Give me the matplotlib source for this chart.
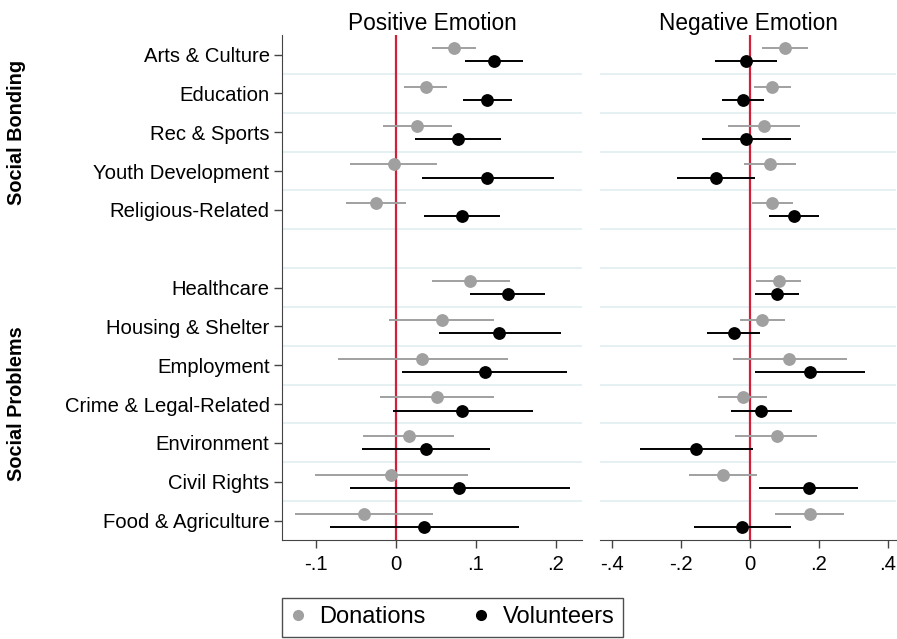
import matplotlib

matplotlib.use("Agg")
import matplotlib.pyplot as plt
from matplotlib.lines import Line2D

# category rows, top to bottom; None leaves an empty slot between the two groups
CATEGORIES = [
    "Arts & Culture", "Education", "Rec & Sports", "Youth Development", "Religious-Related",
    None,
    "Healthcare", "Housing & Shelter", "Employment", "Crime & Legal-Related",
    "Environment", "Civil Rights", "Food & Agriculture",
]

# positive emotion: point estimate, lower and upper CI
POS_DON = [0.072, 0.037, 0.026, -0.003, -0.025, 0.093, 0.057, 0.033, 0.051, 0.016, -0.006, -0.040]
POS_DON_LO = [0.045, 0.010, -0.016, -0.057, -0.063, 0.045, -0.009, -0.072, -0.020, -0.041, -0.101, -0.126]
POS_DON_HI = [0.100, 0.064, 0.070, 0.051, 0.013, 0.142, 0.122, 0.140, 0.122, 0.073, 0.090, 0.046]
POS_VOL = [0.123, 0.114, 0.078, 0.114, 0.083, 0.140, 0.129, 0.111, 0.083, 0.037, 0.079, 0.035]
POS_VOL_LO = [0.086, 0.084, 0.024, 0.033, 0.035, 0.093, 0.054, 0.008, -0.004, -0.043, -0.058, -0.083]
POS_VOL_HI = [0.159, 0.145, 0.131, 0.197, 0.130, 0.186, 0.206, 0.214, 0.171, 0.117, 0.218, 0.154]

# negative emotion
NEG_DON = [0.102, 0.064, 0.040, 0.057, 0.064, 0.083, 0.034, 0.114, -0.022, 0.077, -0.079, 0.173]
NEG_DON_LO = [0.034, 0.010, -0.064, -0.018, 0.007, 0.016, -0.030, -0.051, -0.093, -0.043, -0.178, 0.071]
NEG_DON_HI = [0.168, 0.120, 0.145, 0.133, 0.124, 0.149, 0.101, 0.281, 0.048, 0.194, 0.019, 0.274]
NEG_VOL = [-0.013, -0.021, -0.011, -0.100, 0.128, 0.078, -0.048, 0.174, 0.033, -0.156, 0.171, -0.023]
NEG_VOL_LO = [-0.102, -0.082, -0.140, -0.212, 0.054, 0.013, -0.124, 0.013, -0.054, -0.319, 0.027, -0.163]
NEG_VOL_HI = [0.077, 0.041, 0.119, 0.015, 0.200, 0.142, 0.028, 0.335, 0.121, 0.008, 0.313, 0.118]

POS_TICKS = [-0.1, 0.0, 0.1, 0.2]
POS_TICK_LABELS = ["-.1", "0", ".1", ".2"]
NEG_TICKS = [-0.4, -0.2, 0.0, 0.2, 0.4]
NEG_TICK_LABELS = ["-.4", "-.2", "0", ".2", ".4"]

GROUPS = [("Social Bonding", 0, 4), ("Social Problems", 6, 12)]

DON_COLOR = "#a0a0a0"
VOL_COLOR = "#000000"
ZERO_COLOR = "#d3203a"
GRID_COLOR = "#e3eff2"
AXIS_COLOR = "#444444"

plt.rcParams["font.family"] = ["Liberation Sans", "DejaVu Sans"]


def row_positions():
    return [i for i, name in enumerate(CATEGORIES) if name is not None]


def draw_panel(ax, series, title, ticks, tick_labels, xlim):
    rows = row_positions()
    for k in range(len(CATEGORIES) - 1):
        ax.axhline(k + 0.5, color=GRID_COLOR, lw=1.3, zorder=0)
    ax.axvline(0, color=ZERO_COLOR, lw=1.6, zorder=1)

    for (est, lo, hi), color, shift in zip(series, (DON_COLOR, VOL_COLOR), (-0.17, 0.17)):
        ys = [r + shift for r in rows]
        ax.hlines(ys, lo, hi, color=color, lw=1.4, zorder=2)
        ax.plot(est, ys, "o", color=color, ms=8.2, mec=color, zorder=3)

    ax.set_xlim(*xlim)
    ax.set_ylim(len(CATEGORIES) - 0.5, -0.5)
    ax.set_xticks(ticks)
    ax.set_xticklabels(tick_labels)
    ax.set_title(title, fontsize=16.3, pad=3)
    for side in ("top", "right"):
        ax.spines[side].set_visible(False)
    ax.spines["bottom"].set_color(AXIS_COLOR)
    ax.spines["left"].set_color(AXIS_COLOR)
    ax.tick_params(axis="x", direction="out", length=6, width=1, color=AXIS_COLOR,
                   labelsize=14.6, pad=5)


def main():
    fig = plt.figure(figsize=(8.97, 6.39), dpi=100)
    ax_pos = fig.add_axes([0.3144, 0.155, 0.3344, 0.790])
    ax_neg = fig.add_axes([0.6689, 0.155, 0.3300, 0.790])

    draw_panel(ax_pos,
               [(POS_DON, POS_DON_LO, POS_DON_HI), (POS_VOL, POS_VOL_LO, POS_VOL_HI)],
               "Positive Emotion", POS_TICKS, POS_TICK_LABELS, (-0.1425, 0.2325))
    draw_panel(ax_neg,
               [(NEG_DON, NEG_DON_LO, NEG_DON_HI), (NEG_VOL, NEG_VOL_LO, NEG_VOL_HI)],
               "Negative Emotion", NEG_TICKS, NEG_TICK_LABELS, (-0.436, 0.424))

    rows = row_positions()
    ax_pos.set_yticks(rows)
    ax_pos.set_yticklabels([c for c in CATEGORIES if c is not None])
    ax_pos.tick_params(axis="y", direction="out", length=6, width=1, color=AXIS_COLOR,
                       labelsize=14.6, pad=3)

    ax_neg.spines["left"].set_visible(False)
    ax_neg.set_yticks([])

    # bold group labels down the left edge
    for label, first, last in GROUPS:
        y_mid = (first + last) / 2
        y_fig = fig.transFigure.inverted().transform(ax_pos.transData.transform((0, y_mid)))[1]
        fig.text(0.018, y_fig, label, rotation=90, ha="center", va="center",
                 fontsize=14.3, fontweight="bold")

    handles = [
        Line2D([], [], ls="none", marker="o", color=DON_COLOR, ms=7, label="Donations"),
        Line2D([], [], ls="none", marker="o", color=VOL_COLOR, ms=7, label="Volunteers"),
    ]
    leg = fig.legend(handles=handles, loc="center", bbox_to_anchor=(0.504, 0.034), ncol=2,
                     fontsize=17, frameon=True, fancybox=False, handlelength=0.7,
                     handletextpad=0.55, columnspacing=2.0, borderpad=0.35)
    leg.get_frame().set_edgecolor("#222222")
    leg.get_frame().set_linewidth(1.0)

    fig.savefig("out.png", dpi=100)
    plt.close(fig)


if __name__ == "__main__":
    main()
